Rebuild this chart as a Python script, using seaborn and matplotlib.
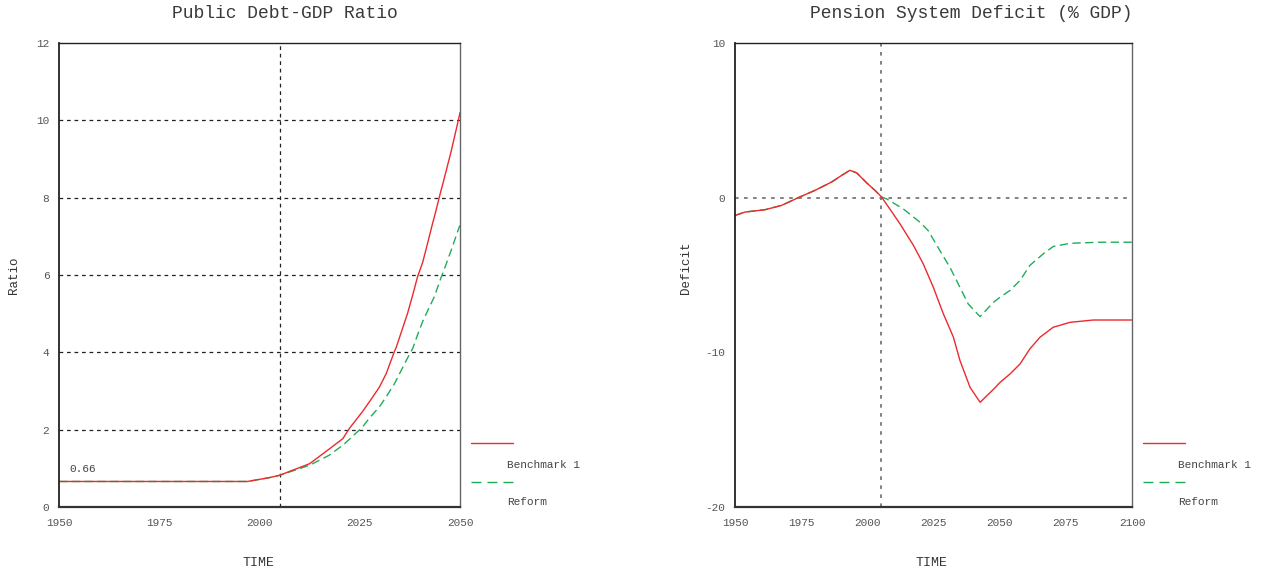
import matplotlib
matplotlib.use("Agg")
import matplotlib.pyplot as plt
from matplotlib.lines import Line2D
import seaborn as sns
import pandas as pd

# ---------------- data ----------------
debt_years = [1950, 1960, 1970, 1980, 1990, 1997, 2002.5, 2005, 2012.5, 2017.4, 2020.8,
              2022.4, 2025.7, 2027.4, 2029.9, 2031.6, 2033.6, 2034.1, 2036.9, 2038.2,
              2039.4, 2040.7, 2041.5, 2043.2, 2043.6, 2045.3, 2045.7, 2047.8, 2049.8, 2050]
debt_benchmark = [0.66, 0.66, 0.66, 0.66, 0.66, 0.66, 0.76, 0.82, 1.12, 1.50, 1.77,
                  2.03, 2.47, 2.72, 3.10, 3.45, 4.01, 4.13, 5.00, 5.48,
                  5.95, 6.33, 6.65, 7.35, 7.50, 8.20, 8.35, 9.20, 10.10, 10.20]
debt_reform = [0.66, 0.66, 0.66, 0.66, 0.66, 0.66, 0.76, 0.82, 1.08, 1.34, 1.60,
               1.75, 2.07, 2.30, 2.59, 2.85, 3.18, 3.28, 3.85, 4.10,
               4.45, 4.80, 4.98, 5.35, 5.44, 5.94, 6.04, 6.64, 7.24, 7.28]

def_years = [1950, 1953.8, 1961.3, 1967.6, 1973.9, 1980.2, 1986.5, 1990.3, 1993.4,
             1996, 1999.8, 2002.9, 2005.4, 2012.3, 2017.4, 2021.1, 2024.9, 2028.7,
             2032.5, 2035, 2038.8, 2042.6, 2047.6, 2050.1, 2053.9, 2057.7, 2061.4,
             2065.2, 2070.2, 2076.6, 2085.4, 2100]
def_benchmark = [-1.15, -0.93, -0.78, -0.50, 0.0, 0.47, 1.01, 1.44, 1.77,
                 1.60, 0.95, 0.47, 0.04, -1.68, -3.08, -4.27, -5.78, -7.50,
                 -9.01, -10.53, -12.26, -13.23, -12.40, -11.95, -11.40, -10.75, -9.78,
                 -9.03, -8.38, -8.06, -7.91, -7.91]
ref_years = [1950, 1953.8, 1961.3, 1967.6, 1973.9, 1980.2, 1986.5, 1990.3, 1993.4,
             1996, 1999.8, 2002.9, 2005.4, 2007.3, 2013.6, 2019.9, 2023, 2027.4,
             2031.2, 2035, 2038.1, 2042.6, 2047.6, 2050.1, 2053.9, 2057.7, 2061.4,
             2066.5, 2070.2, 2076.6, 2087.9, 2100]
def_reform = [-1.15, -0.93, -0.78, -0.50, 0.0, 0.47, 1.01, 1.44, 1.77,
              1.60, 0.95, 0.47, 0.04, -0.08, -0.73, -1.59, -2.13, -3.42,
              -4.50, -5.80, -6.87, -7.69, -6.77, -6.44, -6.00, -5.35, -4.38,
              -3.63, -3.16, -2.95, -2.88, -2.88]

series_names = ["Benchmark 1", "Reform"]
titles = ["Public Debt-GDP Ratio", "Pension System Deficit (% GDP)"]
ylabels = ["Ratio", "Deficit"]
xlabel = "TIME"
policy_year = 2005

RED = "#ec2a2e"
GREEN = "#20ad5a"

# ---------------- style ----------------
sns.set_style("white")
plt.rcParams["font.family"] = ["Liberation Mono", "DejaVu Sans Mono"]
plt.rcParams["axes.unicode_minus"] = False

fig = plt.figure(figsize=(12.64, 5.76), dpi=100)
W, H = 1264, 576
ax1 = fig.add_axes([59 / W, (H - 507) / H, 401 / W, 464 / H])
ax2 = fig.add_axes([735 / W, (H - 507) / H, 397 / W, 464 / H])

df1b = pd.DataFrame({"TIME": debt_years, "v": debt_benchmark})
df1r = pd.DataFrame({"TIME": debt_years, "v": debt_reform})
df2b = pd.DataFrame({"TIME": def_years, "v": def_benchmark})
df2r = pd.DataFrame({"TIME": ref_years, "v": def_reform})

DASH = (0, (6, 3.2))

# left panel
sns.lineplot(data=df1r, x="TIME", y="v", ax=ax1, color=GREEN, lw=1.0,
             linestyle=DASH, legend=False, sort=False)
sns.lineplot(data=df1b, x="TIME", y="v", ax=ax1, color=RED, lw=1.0, legend=False,
             sort=False)
ax1.set_xlim(1950, 2050)
ax1.set_ylim(0, 12)
ax1.set_xticks([1950, 1975, 2000, 2025, 2050])
ax1.set_yticks([0, 2, 4, 6, 8, 10, 12])
for yv in [2, 4, 6, 8, 10]:
    ax1.axhline(yv, color="#222222", lw=0.9, linestyle=(0, (3, 3)), zorder=0)
ax1.axvline(policy_year, color="#222222", lw=0.9, linestyle=(0, (3, 3)), zorder=0)
ax1.text(1952.7, 0.98, "0.66", fontsize=8, color="#444444", va="center", ha="left")

# right panel
sns.lineplot(data=df2r, x="TIME", y="v", ax=ax2, color=GREEN, lw=1.0,
             linestyle=DASH, legend=False, sort=False)
sns.lineplot(data=df2b, x="TIME", y="v", ax=ax2, color=RED, lw=1.0, legend=False,
             sort=False)
ax2.set_xlim(1950, 2100)
ax2.set_ylim(-20, 10)
ax2.set_xticks([1950, 1975, 2000, 2025, 2050, 2075, 2100])
ax2.set_yticks([-20, -10, 0, 10])
ax2.axhline(0, color="#777777", lw=1.3, linestyle=(0, (2, 3)), zorder=0)
ax2.axvline(policy_year, color="#777777", lw=1.3, linestyle=(0, (2, 3)), zorder=0)

for ax, t, tx in [(ax1, titles[0], 285), (ax2, titles[1], 971)]:
    ax.tick_params(axis="both", length=0, labelsize=8, labelcolor="#555555")
    ax.tick_params(axis="x", pad=8)
    ax.tick_params(axis="y", pad=7)
    for s in ax.spines.values():
        s.set_color("#222222")
        s.set_linewidth(1.0)
    ax.spines["bottom"].set_linewidth(1.6)
    ax.spines["bottom"].set_color("#333333")
    ax.spines["left"].set_linewidth(1.3)
    ax.spines["right"].set_color("#666666")
    ax.set_xlabel("")
    ax.set_ylabel("")
    fig.text(tx / W, 1 - 13 / H, t, fontsize=13, color="#3a3a3a", ha="center", va="center")

fig.text(258 / W, 1 - 563 / H, xlabel, fontsize=9.5, color="#333333", ha="center", va="center")
fig.text(931 / W, 1 - 563 / H, xlabel, fontsize=9.5, color="#333333", ha="center", va="center")
fig.text(14 / W, 1 - 275 / H, ylabels[0], fontsize=9, color="#333333", ha="center",
         va="center", rotation=90)
fig.text(686 / W, 1 - 268 / H, ylabels[1], fontsize=9, color="#333333", ha="center",
         va="center", rotation=90)

# legends (line sample above, label below-right)
for x0, xt in [(471, 507), (1143, 1178)]:
    fig.add_artist(Line2D([x0 / W, (x0 + 42) / W], [1 - 443 / H, 1 - 443 / H],
                          color=RED, lw=1.0, transform=fig.transFigure))
    fig.add_artist(Line2D([x0 / W, (x0 + 42) / W], [1 - 482 / H, 1 - 482 / H],
                          color=GREEN, lw=1.0, linestyle=(0, (7.2, 4.3)),
                          transform=fig.transFigure))
    fig.text(xt / W, 1 - 465 / H, series_names[0], fontsize=8, color="#444444",
             ha="left", va="center")
    fig.text(xt / W, 1 - 502 / H, series_names[1], fontsize=8, color="#444444",
             ha="left", va="center")

fig.savefig("out.png", dpi=100)
